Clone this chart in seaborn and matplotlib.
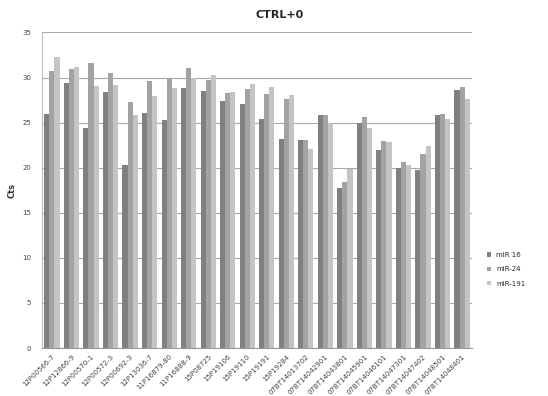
import matplotlib
matplotlib.use('Agg')
import matplotlib.pyplot as plt
import seaborn as sns
import pandas as pd

# Sample IDs along the x axis
samples = ['12P00566-7', '12P12866-9', '12P00570-1', '12P00572-3', '12P00692-3',
           '12P13036-7', '11P16879-80', '11P16888-9', '15P08725', '15P19106',
           '15P19110', '15P19191', '15P19284', '07BT14013702', '07BT14042901',
           '07BT14043801', '07BT14045901', '07BT14046101', '07BT14047301',
           '07BT14047402', '07BT14048501', '07BT14048401']

# Ct values per miRNA
mir16 = [26.0, 29.4, 24.4, 28.4, 20.3, 26.1, 25.3, 28.8, 28.5, 27.4, 27.1,
         25.4, 23.2, 23.1, 25.8, 17.8, 25.0, 22.0, 20.0, 19.7, 25.9, 28.6]
mir24 = [30.7, 31.0, 31.6, 30.5, 27.3, 29.6, 30.0, 31.1, 29.7, 28.3, 28.7,
         28.2, 27.6, 23.1, 25.8, 18.4, 25.6, 23.0, 20.6, 21.5, 26.0, 29.0]
mir191 = [32.3, 31.2, 29.1, 29.2, 25.8, 28.0, 28.8, 30.0, 30.3, 28.4, 29.3,
          29.0, 28.1, 22.1, 25.0, 19.9, 24.4, 22.9, 20.3, 22.4, 25.4, 27.6]

series = ['miR 16', 'miR-24', 'miR-191']
colors = ['#808080', '#a3a3a3', '#c4c4c4']

df = pd.DataFrame({'sample': samples * 3,
                   'Cts': mir16 + mir24 + mir191,
                   'miRNA': [s for s in series for _ in samples]})

sns.set_style('white')
fig = plt.figure(figsize=(5.48, 3.96), dpi=100)
ax = fig.add_axes([0.077, 0.121, 0.784, 0.797])

ax.yaxis.grid(True, color='#a8a8a8', linewidth=0.8)
ax.set_axisbelow(True)
sns.barplot(data=df, x='sample', y='Cts', hue='miRNA', palette=colors,
            width=0.78, gap=0, ax=ax, saturation=1, linewidth=0,
            edgecolor='none')

ax.set_ylim(0, 35)
ax.set_yticks(range(0, 36, 5))
ax.set_xlim(-0.5, len(samples) - 0.5)
ax.set_xlabel('')
ax.set_ylabel('Cts', fontsize=6, fontweight='bold', color='#333333')
ax.tick_params(axis='y', labelsize=5, colors='#444444', length=0, pad=8)
ax.set_xticks(range(len(samples)))
ax.set_xticklabels(samples, rotation=45, ha='right', fontsize=5, color='#444444',
                   rotation_mode='anchor')
ax.tick_params(axis='x', length=0, pad=4)
# ticks between groups
ax.set_xticks([i - 0.5 for i in range(len(samples) + 1)], minor=True)
ax.tick_params(axis='x', which='minor', length=3, color='#999999')

for s in ['top', 'right']:
    ax.spines[s].set_visible(False)
ax.spines['left'].set_color('#bbbbbb')
ax.spines['bottom'].set_color('#999999')

ax.legend(title=None, frameon=False, fontsize=5, loc='center left',
          bbox_to_anchor=(1.02, 0.25), handlelength=0.6, handleheight=0.6,
          labelspacing=1.2)

fig.suptitle('CTRL+0', fontsize=8, fontweight='bold', y=0.975, x=0.51)
fig.savefig('out.png', dpi=100)
